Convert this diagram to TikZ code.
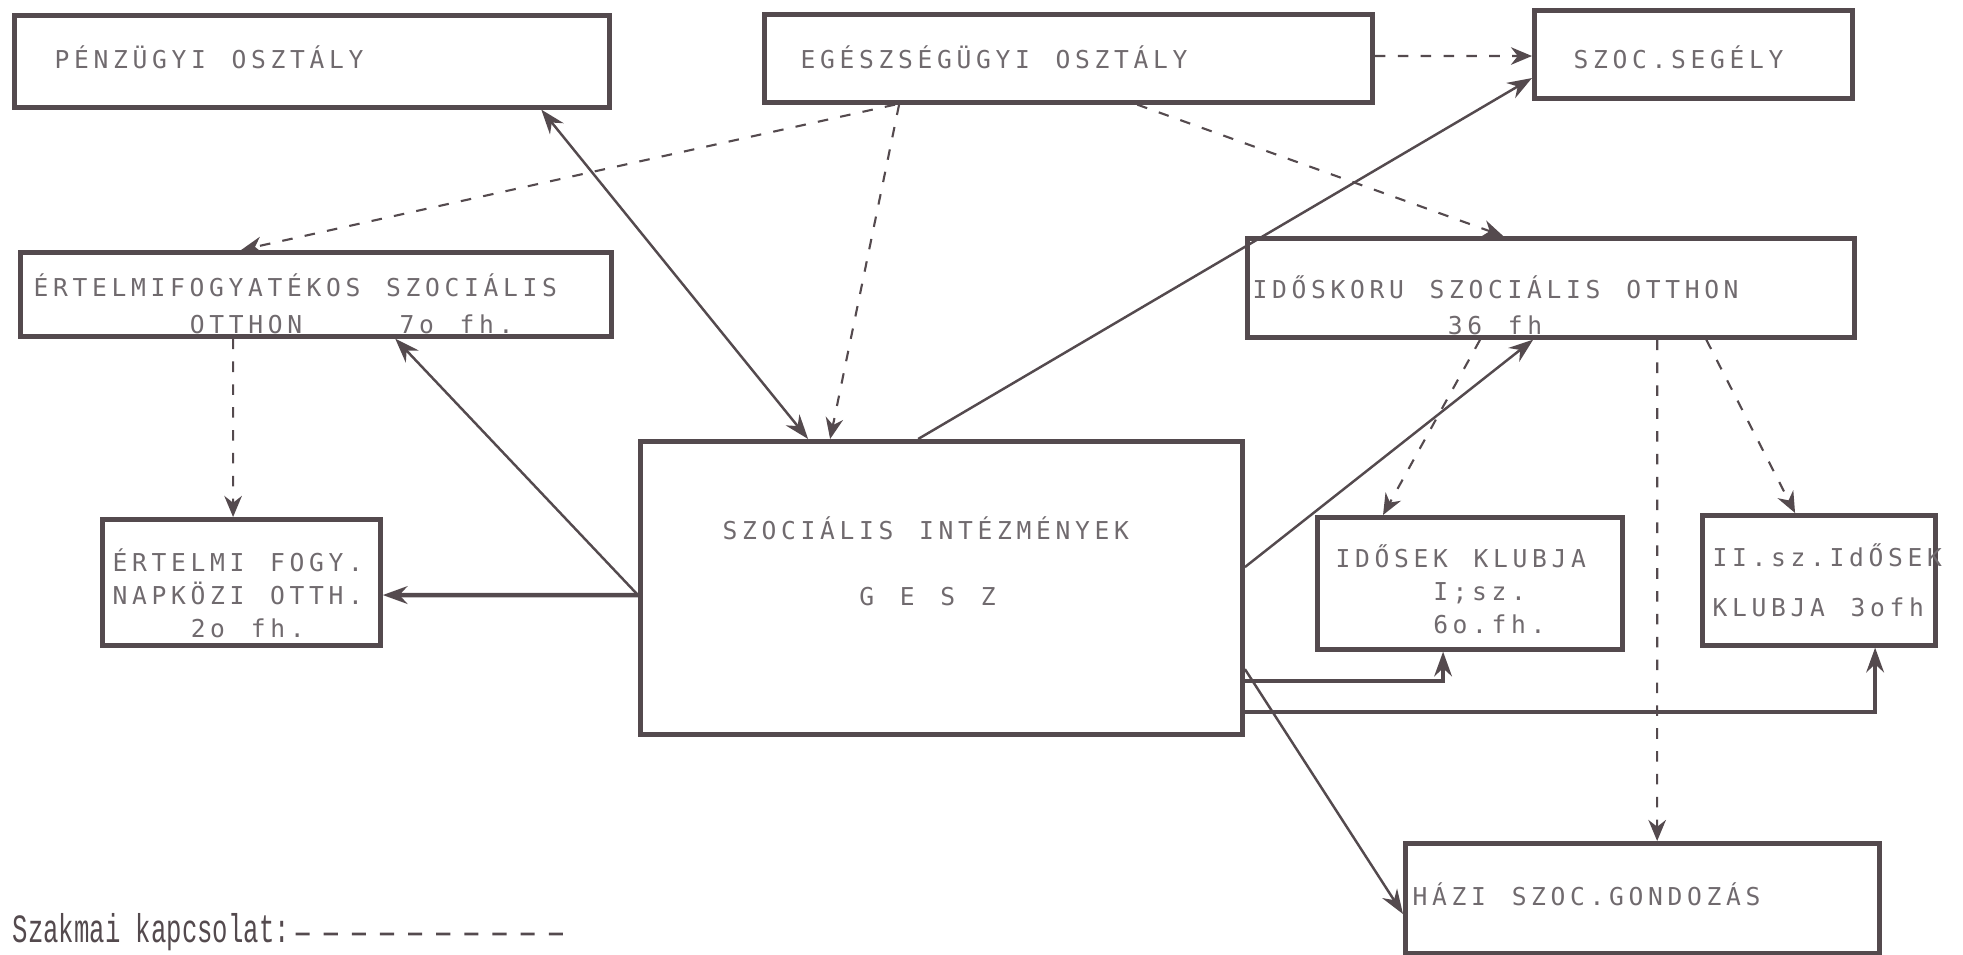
\documentclass[tikz,border=0pt]{standalone}
\usepackage{fontspec}
\setmonofont{Liberation Mono}
\newfontfamily\boxfont[LetterSpace=19,WordSpace={1.32,0,0}]{DejaVu Sans Mono}
\usetikzlibrary{arrows.meta}
\definecolor{ink}{RGB}{84,74,78}
\definecolor{typeink}{RGB}{112,106,110}
\newlength\chw
\setlength\chw{0.195cm}
\newcommand\skipch[1]{\hspace*{#1\chw}}

\begin{document}
\begin{tikzpicture}[
  x=0.01cm, y=-0.01cm,
  unit/.style={draw=ink, line width=1.3pt, inner sep=0pt, anchor=north west},
  txt/.style={font=\boxfont\fontsize{7}{9.4}\selectfont, text=typeink, anchor=west, inner sep=0pt, align=left},
  rel/.style={draw=ink, line width=0.7pt, -{Stealth[length=7pt,width=5pt]}},
  szak/.style={draw=ink, line width=0.6pt, dash pattern=on 3pt off 3.5pt, -{Stealth[length=6pt,width=5pt]}},
]
  \useasboundingbox (0,0) rectangle (1963,955);

  % Osztalyok
  \node[unit, minimum width=5.95cm, minimum height=0.92cm] (penz) at (12,13) {};
  \node[unit, minimum width=6.08cm, minimum height=0.88cm] (egesz) at (762,12) {};
  \node[unit, minimum width=3.18cm, minimum height=0.88cm] (szoc) at (1532,8) {};

  % Otthonok
  \node[unit, minimum width=5.91cm, minimum height=0.84cm] (ertfogy) at (18,250) {};
  \node[unit, minimum width=6.07cm, minimum height=0.99cm] (idos) at (1245,236) {};
  \node[unit, minimum width=6.02cm, minimum height=2.93cm] (gesz) at (638,439) {};
  \node[unit, minimum width=2.78cm, minimum height=1.26cm] (ertelmi) at (100,517) {};
  \node[unit, minimum width=3.05cm, minimum height=1.32cm] (klubA) at (1315,515) {};
  \node[unit, minimum width=2.33cm, minimum height=1.30cm] (klubB) at (1700,513) {};
  \node[unit, minimum width=4.74cm, minimum height=1.10cm] (hazi) at (1403,841) {};

  % Feliratok
  \node[txt] (penzt) at (54,57) {PÉNZÜGYI OSZTÁLY};
  \node[txt] (egeszt) at (800,57) {EGÉSZSÉGÜGYI OSZTÁLY};
  \node[txt] (szoct) at (1573,57) {SZOC.SEGÉLY};
  \node[txt] (ertfogyt) at (33,304) {ÉRTELMIFOGYATÉKOS SZOCIÁLIS\\[1.1pt]\skipch{8}OTTHON\skipch{5}7o fh.};
  \node[txt] (idost) at (1252,305) {IDŐSKORU SZOCIÁLIS OTTHON\\[0.8pt]\skipch{10}36 fh};
  \node[txt] (geszt) at (722,561) {SZOCIÁLIS INTÉZMÉNYEK\\[9.3pt]\skipch{7}G E S Z};
  \node[txt] (ertelmit) at (112,593) {ÉRTELMI FOGY.\\NAPKÖZI OTTH.\\\skipch{4}2o fh.};
  \node[txt] (klubAt) at (1335,589) {IDŐSEK KLUBJA\\\skipch{5}I;sz.\\\skipch{5}6o.fh.};
  \node[txt] (klubBt) at (1712,580) {II.sz.IdŐSEK\\[4.8pt]KLUBJA 3ofh};
  \node[txt] (hazit) at (1412,894) {HÁZI SZOC.GONDOZÁS};

  % Iranyitas
  \draw[rel, {Stealth[length=7pt,width=5pt]}-{Stealth[length=7pt,width=5pt]}] ([xshift=5.29cm]penz.south west) -- ([xshift=1.70cm]gesz.north west);
  \draw[rel] ([xshift=2.80cm]gesz.north west) -- ([yshift=-0.70cm]szoc.north west);
  \draw[rel] ([yshift=-1.56cm]gesz.north west) -- ([xshift=3.77cm]ertfogy.south west);
  \draw[rel, line width=1.3pt] ([yshift=-1.56cm]gesz.north west) -- ([yshift=-0.78cm]ertelmi.north east);
  \draw[rel] ([yshift=-1.28cm]gesz.north east) -- ([xshift=2.88cm]idos.south west);
  \draw[rel, line width=1.1pt] ([yshift=-2.42cm]gesz.north east) -| ([xshift=1.28cm]klubA.south west);
  \draw[rel, line width=1.1pt] ([yshift=-2.73cm]gesz.north east) -| ([xshift=1.75cm]klubB.south west);
  \draw[rel] ([yshift=-2.30cm]gesz.north east) -- ([yshift=-0.73cm]hazi.north west);

  % Szakmai kapcsolat
  \draw[szak] ([yshift=-0.44cm]egesz.north east) -- ([yshift=-0.48cm]szoc.north west);
  \draw[szak] ([xshift=1.33cm]egesz.south west) -- ([xshift=2.23cm]ertfogy.north west);
  \draw[szak] ([xshift=1.37cm]egesz.south west) -- ([xshift=1.92cm]gesz.north west);
  \draw[szak] ([xshift=3.75cm]egesz.south west) -- ([xshift=2.58cm]idos.north west);
  \draw[szak] ([xshift=2.15cm]ertfogy.south west) -- ([xshift=1.33cm]ertelmi.north west);
  \draw[szak] ([xshift=2.35cm]idos.south west) -- ([xshift=0.68cm]klubA.north west);
  \draw[szak] ([xshift=4.12cm]idos.south west) -- ([xshift=2.54cm]hazi.north west);
  \draw[szak] ([xshift=4.61cm]idos.south west) -- ([xshift=0.95cm]klubB.north west);

  % Jelmagyarazat
  \node[anchor=west, inner sep=0pt, text=ink] (legend) at (12,932) {\scalebox{0.64}[1]{\ttfamily\fontsize{11.4}{12}\selectfont Szakmai kapcsolat:}};
  \coordinate (legendend) at (576,934);
  \draw[ink, line width=0.8pt, dash pattern=on 4pt off 4pt] ([xshift=0.05cm,yshift=-0.02cm]legend.east) -- (legendend);
\end{tikzpicture}
\end{document}
